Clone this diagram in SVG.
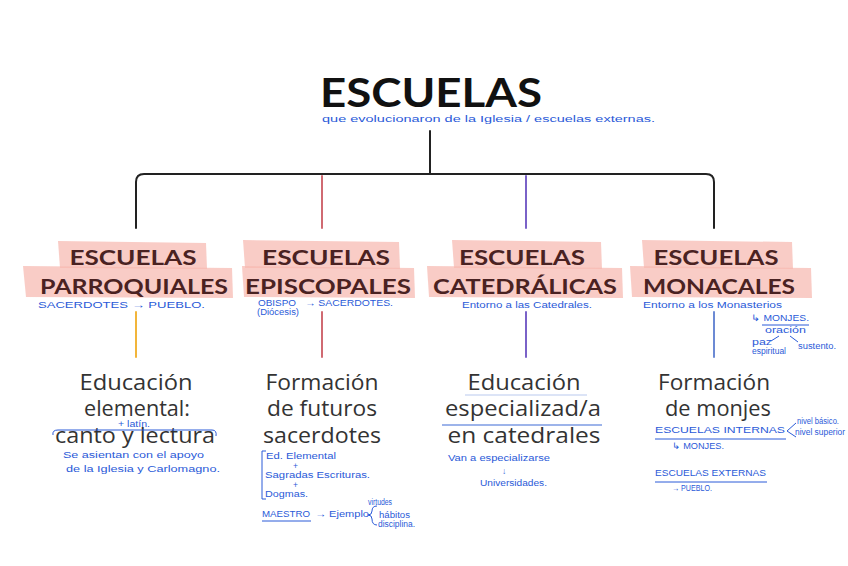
<svg xmlns="http://www.w3.org/2000/svg" width="848" height="566" viewBox="0 0 848 566">
<style>
.title{font-family:Lato,"Open Sans",sans-serif;font-weight:700;font-size:40px;fill:#111;text-anchor:middle}
.hd{font-family:Lato,"Open Sans",sans-serif;font-weight:700;font-size:20.5px;fill:#4a2222;text-anchor:middle}
.hl{fill:#f6b8b0;opacity:0.72}
.body{font-family:"Open Sans","Noto Sans",sans-serif;font-size:21px;fill:#333;text-anchor:middle}
.note{font-family:"Liberation Sans",Arial,sans-serif;font-size:8.5px;fill:#2a5ad8}
.nl{stroke:#2a5ad8;stroke-width:1;fill:none}
.conn{fill:none;stroke-width:2;stroke-linecap:round}
</style>
<rect width="848" height="566" fill="#fff"/>

<g id="connectors">
  <path class="conn" d="M430 131 V174" stroke="#222"/>
  <path class="conn" d="M136 228 V182 Q136 174 144 174 H706 Q714 174 714 182 V228" stroke="#222"/>
  <path class="conn" d="M322 176 V228" stroke="#d06a72"/>
  <path class="conn" d="M526 176 V228" stroke="#7a62c8"/>
  <path class="conn" d="M136 312 V357" stroke="#f2b53a"/>
  <path class="conn" d="M322 312 V357" stroke="#d06a72"/>
  <path class="conn" d="M526 312 V357" stroke="#7a62c8"/>
  <path class="conn" d="M714 312 V357" stroke="#6c8ad4"/>
</g>

<g id="title">
  <text class="title" x="431" y="107" textLength="222" lengthAdjust="spacingAndGlyphs">ESCUELAS</text>
  <text class="note" x="322" y="122" textLength="333" lengthAdjust="spacingAndGlyphs">que evolucionaron de la Iglesia / escuelas externas.</text>
</g>

<g id="parroquiales">
  <polygon class="hl" points="58,241 206,243 207,269 60,268"/>
  <polygon class="hl" points="23,266 232,268 233,298 26,297"/>
  <text class="hd" x="133" y="265" textLength="127" lengthAdjust="spacingAndGlyphs">ESCUELAS</text>
  <text class="hd" x="134" y="294" textLength="188" lengthAdjust="spacingAndGlyphs">PARROQUIALES</text>
  <text class="note" x="38" y="308" textLength="167" lengthAdjust="spacingAndGlyphs">SACERDOTES → PUEBLO.</text>
</g>

<g id="episcopales">
  <polygon class="hl" points="243,240 399,242 400,269 245,268"/>
  <polygon class="hl" points="242,266 414,268 415,298 244,297"/>
  <text class="hd" x="326" y="265" textLength="128" lengthAdjust="spacingAndGlyphs">ESCUELAS</text>
  <text class="hd" x="328" y="294" textLength="166" lengthAdjust="spacingAndGlyphs">EPISCOPALES</text>
  <text class="note" x="258" y="306" textLength="38" lengthAdjust="spacingAndGlyphs">OBISPO</text>
  <text class="note" x="257" y="315" font-size="6.5" textLength="42" lengthAdjust="spacingAndGlyphs">(Diócesis)</text>
  <text class="note" x="305" y="306" textLength="88" lengthAdjust="spacingAndGlyphs">→ SACERDOTES.</text>
</g>

<g id="catedralicas">
  <polygon class="hl" points="452,240 601,242 602,269 454,268"/>
  <polygon class="hl" points="427,266 622,268 623,298 429,297"/>
  <text class="hd" x="522" y="265" textLength="126" lengthAdjust="spacingAndGlyphs">ESCUELAS</text>
  <text class="hd" x="525" y="294" textLength="184" lengthAdjust="spacingAndGlyphs">CATEDRÁLICAS</text>
  <text class="note" x="462" y="308" textLength="130" lengthAdjust="spacingAndGlyphs">Entorno a las Catedrales.</text>
</g>

<g id="monacales">
  <polygon class="hl" points="642,240 792,242 793,269 644,268"/>
  <polygon class="hl" points="630,266 811,268 812,298 632,297"/>
  <text class="hd" x="716" y="265" textLength="125" lengthAdjust="spacingAndGlyphs">ESCUELAS</text>
  <text class="hd" x="719" y="294" textLength="152" lengthAdjust="spacingAndGlyphs">MONACALES</text>
  <text class="note" x="643" y="308" textLength="139" lengthAdjust="spacingAndGlyphs">Entorno a los Monasterios</text>
  <text class="note" x="751" y="321" textLength="58" lengthAdjust="spacingAndGlyphs">↳ MONJES.</text>
  <path class="nl" d="M762 325 H809"/>
  <text class="note" x="765" y="333" font-size="7.5" textLength="41" lengthAdjust="spacingAndGlyphs">oración</text>
  <path class="nl" d="M779 336 L771 341 M790 336 L798 342"/>
  <text class="note" x="752" y="345" font-size="6.5" textLength="20" lengthAdjust="spacingAndGlyphs">paz</text>
  <text class="note" x="752" y="354" font-size="6.5" textLength="34" lengthAdjust="spacingAndGlyphs">espiritual</text>
  <text class="note" x="798" y="349" font-size="7" textLength="38" lengthAdjust="spacingAndGlyphs">sustento.</text>
</g>

<g id="educacion-elemental">
  <text class="body" x="136" y="390" textLength="113" lengthAdjust="spacingAndGlyphs">Educación</text>
  <text class="body" x="137" y="416" textLength="106" lengthAdjust="spacingAndGlyphs">elemental:</text>
  <text class="body" x="135" y="443" textLength="160" lengthAdjust="spacingAndGlyphs">canto y lectura</text>
  <path class="nl" d="M53 435 Q52 430 58 430 H212 Q217 430 216 436"/>
  <text class="note" x="118" y="427" font-size="6.5" textLength="32" lengthAdjust="spacingAndGlyphs">+ latín.</text>
  <text class="note" x="63" y="458" textLength="141" lengthAdjust="spacingAndGlyphs">Se asientan con el apoyo</text>
  <text class="note" x="66" y="472" textLength="154" lengthAdjust="spacingAndGlyphs">de la Iglesia y Carlomagno.</text>
</g>

<g id="formacion-sacerdotes">
  <text class="body" x="322" y="390" textLength="113" lengthAdjust="spacingAndGlyphs">Formación</text>
  <text class="body" x="322" y="416" textLength="110" lengthAdjust="spacingAndGlyphs">de futuros</text>
  <text class="body" x="322" y="443" textLength="118" lengthAdjust="spacingAndGlyphs">sacerdotes</text>
  <path class="nl" d="M266 451 H262 V499 H266"/>
  <text class="note" x="266" y="459" textLength="70" lengthAdjust="spacingAndGlyphs">Ed. Elemental</text>
  <text class="note" x="293" y="469" font-size="7">+</text>
  <text class="note" x="265" y="478" textLength="105" lengthAdjust="spacingAndGlyphs">Sagradas Escrituras.</text>
  <text class="note" x="293" y="488" font-size="7">+</text>
  <text class="note" x="265" y="497" textLength="43" lengthAdjust="spacingAndGlyphs">Dogmas.</text>
  <text class="note" x="262" y="517" textLength="48" lengthAdjust="spacingAndGlyphs">MAESTRO</text>
  <path class="nl" d="M262 521 H311"/>
  <text class="note" x="315" y="517" textLength="54" lengthAdjust="spacingAndGlyphs">→ Ejemplo</text>
  <path class="nl" d="M377 506 Q372 506 372 511 Q372 515 368 515 Q372 515 372 519 Q372 525 377 525"/>
  <text class="note" x="368" y="505" font-size="7" textLength="24" lengthAdjust="spacingAndGlyphs">virtudes</text>
  <text class="note" x="379" y="518" font-size="7.5" textLength="31" lengthAdjust="spacingAndGlyphs">hábitos</text>
  <text class="note" x="378" y="527" font-size="7.5" textLength="37" lengthAdjust="spacingAndGlyphs">disciplina.</text>
</g>

<g id="educacion-especializada">
  <text class="body" x="524" y="390" textLength="113" lengthAdjust="spacingAndGlyphs">Educación</text>
  <text class="body" x="523" y="416" textLength="156" lengthAdjust="spacingAndGlyphs">especializad/a</text>
  <text class="body" x="524" y="443" textLength="153" lengthAdjust="spacingAndGlyphs">en catedrales</text>
  <path d="M465 395 H587" stroke="#b9c9ee" stroke-width="1" fill="none"/>
  <path d="M442 425 H602" stroke="#3d6ad6" stroke-width="1.2" fill="none"/>
  <text class="note" x="448" y="461" textLength="102" lengthAdjust="spacingAndGlyphs">Van a especializarse</text>
  <text class="note" x="502" y="474">↓</text>
  <text class="note" x="480" y="486" textLength="67" lengthAdjust="spacingAndGlyphs">Universidades.</text>
</g>

<g id="formacion-monjes">
  <text class="body" x="714" y="390" textLength="112" lengthAdjust="spacingAndGlyphs">Formación</text>
  <text class="body" x="718" y="416" textLength="106" lengthAdjust="spacingAndGlyphs">de monjes</text>
  <text class="note" x="655" y="433" textLength="130" lengthAdjust="spacingAndGlyphs">ESCUELAS INTERNAS</text>
  <path class="nl" d="M655 439 H786"/>
  <path class="nl" d="M796 423 L787 431 L796 437"/>
  <text class="note" x="797" y="424" font-size="7" textLength="42" lengthAdjust="spacingAndGlyphs">nivel básico.</text>
  <text class="note" x="795" y="435" font-size="7" textLength="50" lengthAdjust="spacingAndGlyphs">nivel superior</text>
  <text class="note" x="672" y="449" textLength="52" lengthAdjust="spacingAndGlyphs">↳ MONJES.</text>
  <text class="note" x="655" y="476" textLength="111" lengthAdjust="spacingAndGlyphs">ESCUELAS EXTERNAS</text>
  <path class="nl" d="M655 482 H767"/>
  <text class="note" x="672" y="491" textLength="40" lengthAdjust="spacingAndGlyphs">→ PUEBLO.</text>
</g>
</svg>
